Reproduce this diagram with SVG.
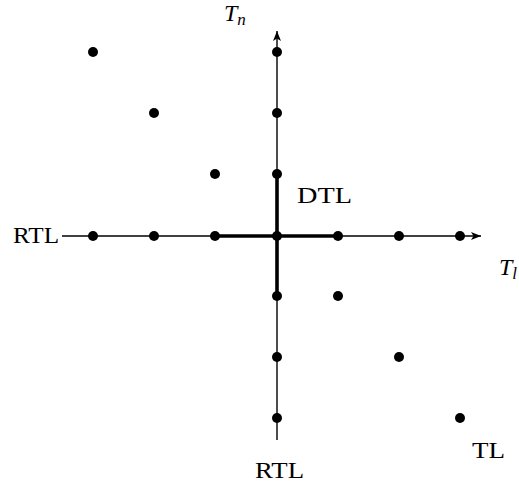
<svg xmlns="http://www.w3.org/2000/svg" width="519" height="491" viewBox="0 0 519 491">
<style>
.ax{stroke:#000;stroke-width:1.4;fill:none}
.thick{stroke:#000;stroke-width:3.6;fill:none}
.dot{fill:#000}
.lbl{font-family:"Liberation Serif","DejaVu Serif",serif;font-size:23px;fill:#000}
.it{font-style:italic;font-size:24px}
</style>
<defs>
<marker id="arr" viewBox="0 0 10 10" refX="10" refY="5" markerWidth="10" markerHeight="10" markerUnits="userSpaceOnUse" orient="auto">
<path d="M0,1 L10,5 L0,9 L2.5,5 Z" fill="#000"/>
</marker>
</defs>
<g id="connectors">
<line class="ax" x1="62" y1="236" x2="481" y2="236" marker-end="url(#arr)"/>
<line class="ax" x1="277" y1="440" x2="277" y2="31" marker-end="url(#arr)"/>
<line class="thick" x1="215" y1="236" x2="338" y2="236"/>
<line class="thick" x1="277" y1="174" x2="277" y2="296"/>
</g>
<g id="points">
<circle class="dot" cx="93" cy="52" r="5"/>
<circle class="dot" cx="154" cy="113" r="5"/>
<circle class="dot" cx="215" cy="174" r="5"/>
<circle class="dot" cx="93" cy="236" r="5"/>
<circle class="dot" cx="154" cy="236" r="5"/>
<circle class="dot" cx="215" cy="236" r="5"/>
<circle class="dot" cx="277" cy="236" r="5"/>
<circle class="dot" cx="338" cy="236" r="5"/>
<circle class="dot" cx="399" cy="236" r="5"/>
<circle class="dot" cx="460" cy="236" r="5"/>
<circle class="dot" cx="277" cy="52" r="5"/>
<circle class="dot" cx="277" cy="113" r="5"/>
<circle class="dot" cx="277" cy="174" r="5"/>
<circle class="dot" cx="277" cy="296" r="5"/>
<circle class="dot" cx="277" cy="357" r="5"/>
<circle class="dot" cx="277" cy="418" r="5"/>
<circle class="dot" cx="338" cy="296" r="5"/>
<circle class="dot" cx="399" cy="357" r="5"/>
<circle class="dot" cx="460" cy="418" r="5"/>
</g>
<g id="labels">
<text class="lbl it" x="224" y="21">T<tspan font-size="17" dy="4">n</tspan></text>
<text class="lbl it" x="499" y="275">T<tspan font-size="17" dy="4">l</tspan></text>
<text class="lbl" x="297" y="203" textLength="55" lengthAdjust="spacingAndGlyphs">DTL</text>
<text class="lbl" x="13" y="243" textLength="46" lengthAdjust="spacingAndGlyphs">RTL</text>
<text class="lbl" x="255" y="478" textLength="49" lengthAdjust="spacingAndGlyphs">RTL</text>
<text class="lbl" x="472" y="458" textLength="33" lengthAdjust="spacingAndGlyphs">TL</text>
</g>
</svg>
